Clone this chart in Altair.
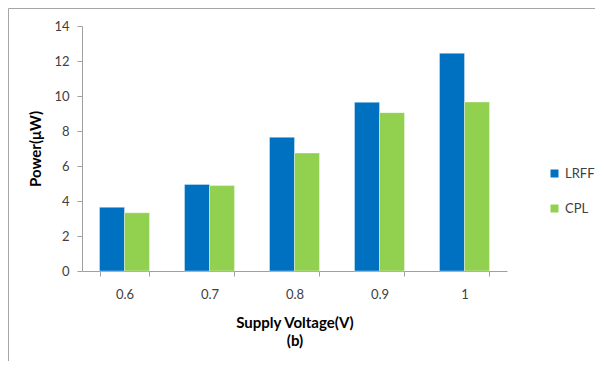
import altair as alt
import pandas as pd

voltages = ["0.6", "0.7", "0.8", "0.9", "1"]
lrff = [3.64, 4.95, 7.64, 9.64, 12.44]
cpl = [3.33, 4.88, 6.74, 9.05, 9.66]
series = ["LRFF", "CPL"]
colors = ["#0070C0", "#92D050"]

rows = []
for v, a, b in zip(voltages, lrff, cpl):
    rows.append({"voltage": v, "series": "LRFF", "power": a})
    rows.append({"voltage": v, "series": "CPL", "power": b})
df = pd.DataFrame(rows)

W, H = 425, 245
FONT = "Lato"
TXT = "#404040"
AX = "#a0a0a0"

bars = alt.Chart(df).mark_bar(stroke="white", strokeWidth=0.6, strokeOpacity=0.6).encode(
    x=alt.X("voltage:N", sort=voltages,
            scale=alt.Scale(paddingInner=0.412, paddingOuter=0.206),
            axis=alt.Axis(title=["Supply Voltage(V)", "(b)"], labelAngle=0,
                          tickBand="extent", labelPadding=12, titlePadding=14,
                          titleLineHeight=18)),
    xOffset=alt.XOffset("series:N", sort=series),
    y=alt.Y("power:Q", scale=alt.Scale(domain=[0, 14], nice=False),
            axis=alt.Axis(title="Power(μW)", values=[0, 2, 4, 6, 8, 10, 12, 14],
                          grid=False, labelPadding=8, titlePadding=10)),
    color=alt.Color("series:N", sort=series,
                    scale=alt.Scale(domain=series, range=colors),
                    legend=alt.Legend(title=None, orient="none", legendX=466, legendY=141,
                                      symbolType="square", symbolSize=64,
                                      symbolStrokeWidth=0, rowPadding=21,
                                      labelFontSize=13, labelFont=FONT,
                                      labelColor=TXT, labelOffset=4, padding=0)),
)

frame_v = alt.Chart(pd.DataFrame({"a": [0]})).mark_rule(color="#a6a6a6", strokeWidth=1).encode(
    x=alt.value(-73.5), y=alt.value(-17.5), y2=alt.value(H + 100))
frame_h = alt.Chart(pd.DataFrame({"a": [0]})).mark_rule(color="#a6a6a6", strokeWidth=1).encode(
    x=alt.value(-73.5), x2=alt.value(W + 200), y=alt.value(-17.5))

chart = alt.layer(bars, frame_v, frame_h).properties(
    width=W, height=H,
    autosize=alt.AutoSizeParams(type="none"),
    padding={"left": 74, "top": 18, "right": 88, "bottom": 90},
    background="white",
).configure_view(stroke=None).configure_axis(
    labelFont=FONT, labelFontSize=13, labelColor=TXT,
    titleFont=FONT, titleFontSize=15, titleFontWeight="bold", titleColor="#000000",
    domainColor=AX, tickColor=AX, tickSize=5,
)

chart.save("out.html", embed_options={"renderer": "svg", "actions": False})
